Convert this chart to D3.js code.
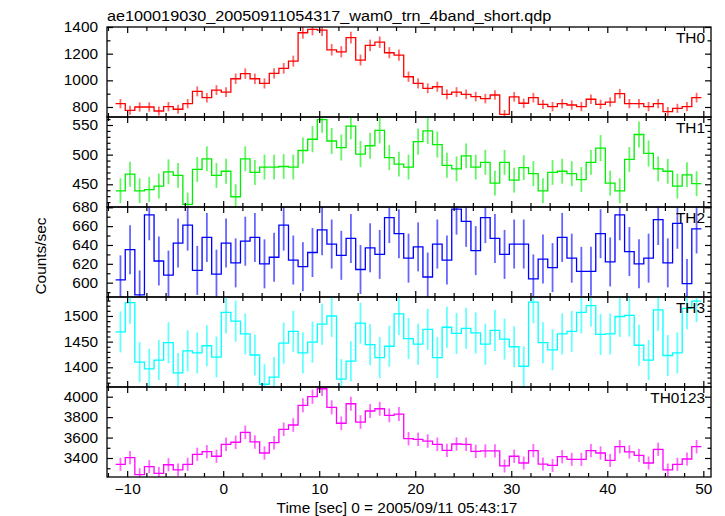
<!DOCTYPE html>
<html><head><meta charset="utf-8">
<script src="https://cdn.jsdelivr.net/npm/d3@7"></script>
<style>body{margin:0;background:#fff}text{font-family:"Liberation Sans",Arial,Helvetica,sans-serif;fill:#000}</style>
</head><body>
<svg id="c" width="725" height="516"></svg>
<script>
const titleText = "ae100019030_20050911054317_wam0_trn_4band_short.qdp";
const xLabel = "Time [sec] 0 = 2005/09/11 05:43:17";
const yLabel = "Counts/sec";
const panelNames = ["TH0","TH1","TH2","TH3","TH0123"];
const panelColors = ["#ff0000","#00ee00","#0000ff","#00ffff","#ff00ff"];

const binTimes = [-10.7,-9.7,-8.7,-7.7,-6.7,-5.7,-4.7,-3.7,-2.7,-1.7,-0.7,0.3,1.3,2.3,3.3,4.3,5.3,6.3,7.3,8.3,9.3,10.3,11.3,12.3,13.3,14.3,15.3,16.3,17.3,18.3,19.3,20.3,21.3,22.3,23.3,24.3,25.3,26.3,27.3,28.3,29.3,30.3,31.3,32.3,33.3,34.3,35.3,36.3,37.3,38.3,39.3,40.3,41.3,42.3,43.3,44.3,45.3,46.3,47.3,48.3,49.3];
const binHalfWidth = 0.5;

const th0 = [825,775,800,800,770,803,783,825,917,870,927,912,1012,1050,1012,977,1052,1090,1144,1357,1382,1377,1229,1214,1321,1152,1262,1286,1207,1189,1027,977,940,952,895,912,895,878,863,890,745,876,828,870,820,803,825,815,803,858,820,837,900,825,825,803,825,766,790,803,870];
const th0Err = [35,34,35,35,34,35,34,35,37,36,37,37,39,39,39,38,39,40,41,45,45,45,43,42,44,41,43,43,42,42,39,38,37,38,36,37,36,36,36,36,33,36,35,36,35,35,35,35,35,36,35,35,36,35,35,35,35,34,34,35,36];
const th1 = [439,467,439,441,447,471,465,416,475,493,465,472,429,493,470,479,479,480,479,507,526,559,523,512,548,501,515,541,495,484,479,522,540,517,482,476,498,479,487,452,487,457,478,468,439,470,472,468,458,487,511,452,439,492,534,502,476,472,447,466,451];
const th1Err = [21,21,21,21,21,21,21,20,21,21,21,21,21,21,21,21,21,21,21,22,22,22,22,22,22,22,22,22,21,21,21,22,22,22,21,21,21,21,21,21,21,21,21,21,21,21,21,21,21,21,22,21,21,21,22,22,21,21,21,21,21];
const th2 = [603,635,587,672,623,608,642,661,613,648,609,642,621,644,648,620,627,661,624,617,632,656,641,629,647,614,637,630,669,652,626,638,606,641,624,678,665,634,669,647,630,641,641,604,625,616,648,626,612,612,652,622,672,633,620,626,667,621,663,599,657];
const th2Err = [26,26,26,27,26,26,26,27,26,26,26,26,26,26,26,26,26,27,26,26,26,27,26,26,26,26,26,26,27,26,26,26,26,26,26,27,27,26,27,26,26,26,26,26,26,26,26,26,26,26,26,26,27,26,26,26,27,26,27,26,26];
const th3 = [1469,1526,1410,1397,1414,1448,1389,1432,1428,1442,1420,1507,1490,1465,1424,1367,1381,1447,1470,1428,1449,1484,1500,1377,1412,1486,1444,1419,1441,1504,1456,1445,1474,1419,1478,1466,1476,1467,1445,1472,1455,1440,1402,1527,1448,1434,1465,1470,1507,1520,1464,1465,1499,1501,1443,1414,1512,1423,1428,1515,1529];
const th3Err = [40,41,39,39,39,40,39,40,40,40,40,41,40,40,40,39,39,40,40,40,40,40,41,39,39,40,40,40,40,41,40,40,40,40,40,40,40,40,40,40,40,40,39,41,40,40,40,40,41,41,40,40,40,41,40,39,41,40,40,41,41];
const th0123 = [3338,3403,3237,3315,3250,3334,3283,3338,3436,3462,3417,3534,3554,3651,3557,3449,3550,3681,3723,3916,4000,4078,3896,3740,3931,3752,3860,3882,3818,3830,3589,3583,3566,3534,3475,3537,3534,3465,3469,3469,3322,3417,3351,3472,3341,3328,3413,3387,3387,3472,3449,3377,3511,3459,3426,3351,3485,3283,3338,3390,3511];
const th0123Err = [64,65,63,64,63,64,63,64,65,65,65,66,66,67,66,65,66,67,67,69,70,70,69,67,69,67,68,68,68,68,66,66,66,66,65,66,66,65,65,65,64,65,64,65,64,64,65,64,64,65,65,64,66,65,65,64,65,63,64,64,66];

const xMajorTicks = [-10,0,10,20,30,40,50];
const xMinorTicks = [-12,-8,-6,-4,-2,2,4,6,8,12,14,16,18,22,24,26,28,32,34,36,38,42,44,46,48];
const yDomains = [[725,1400],[411.7,563.5],[584.8,680.3],[1361.6,1537],[3214,4095]];
const yMajorTicks = [[800,1000,1200,1400],[450,500,550],[600,620,640,660,680],[1400,1450,1500],[3400,3600,3800,4000]];
const yMinorTicks = [[900,1100,1300],[420,430,440,460,470,480,490,510,520,530,540,560],[590,610,630,650,670],[1370,1380,1390,1410,1420,1430,1440,1460,1470,1480,1490,1510,1520,1530],[3300,3500,3700,3900]];
const series = [th0,th1,th2,th3,th0123];
const errors = [th0Err,th1Err,th2Err,th3Err,th0123Err];

const L=107, R=711, TOP=27, PH=90;
const FS=14, SX=1.1;
const svg = d3.select("#c");
const x = d3.scaleLinear().domain([-12.1,50.8]).range([L,R]);

function stretchTexts(axisG){
  axisG.selectAll("text").each(function(){
    const t=d3.select(this);
    const xx=+t.attr("x")||0;
    t.attr("x", xx/SX).attr("transform",`scale(${SX},1)`).style("font-size",FS+"px");
  });
}
function addText(x0,y0,s,anchor,size,sx,rot){
  svg.append("text")
    .attr("transform",`translate(${x0},${y0})${rot?` rotate(${rot})`:""} scale(${sx},1)`)
    .attr("text-anchor",anchor).style("font-size",size+"px").text(s);
}

series.forEach((vals,p)=>{
  const t=TOP+p*PH, b=t+PH;
  const y=d3.scaleLinear().domain(yDomains[p]).range([b,t]);
  const g=svg.append("g");
  const cid="clip"+p;
  svg.append("clipPath").attr("id",cid).append("rect").attr("x",L).attr("y",t).attr("width",R-L).attr("height",PH);
  const dg=g.append("g").attr("clip-path",`url(#${cid})`);
  const col=panelColors[p];
  dg.selectAll("line.err").data(vals).join("line")
    .attr("x1",(d,i)=>x(binTimes[i])).attr("x2",(d,i)=>x(binTimes[i]))
    .attr("y1",(d,i)=>y(d-errors[p][i])).attr("y2",(d,i)=>y(d+errors[p][i]))
    .attr("stroke",col).attr("stroke-width",1.8).attr("stroke-opacity",0.6);
  const pts=vals.map((v,i)=>[binTimes[i]-binHalfWidth,v]);
  pts.push([binTimes[vals.length-1]+binHalfWidth,vals[vals.length-1]]);
  const line=d3.line().x(d=>x(d[0])).y(d=>y(d[1])).curve(d3.curveStepAfter);
  dg.append("path").attr("d",line(pts)).attr("fill","none").attr("stroke",col).attr("stroke-width",1.3);

  const fmt=d3.format("d");
  const yl=g.append("g").attr("transform",`translate(${L},0)`)
    .call(d3.axisLeft(y).tickValues(yMajorTicks[p]).tickSize(-6).tickPadding(9).tickFormat(fmt));
  yl.select(".domain").remove(); stretchTexts(yl);
  const ylm=g.append("g").attr("transform",`translate(${L},0)`)
    .call(d3.axisLeft(y).tickValues(yMinorTicks[p]).tickSize(-3.5).tickFormat(""));
  ylm.select(".domain").remove();
  const yr=g.append("g").attr("transform",`translate(${R},0)`)
    .call(d3.axisRight(y).tickValues(yMajorTicks[p]).tickSize(-6).tickFormat(""));
  yr.select(".domain").remove();
  const yrm=g.append("g").attr("transform",`translate(${R},0)`)
    .call(d3.axisRight(y).tickValues(yMinorTicks[p]).tickSize(-3.5).tickFormat(""));
  yrm.select(".domain").remove();
  const xt=g.append("g").attr("transform",`translate(0,${t})`)
    .call(d3.axisTop(x).tickValues(xMajorTicks).tickSize(-6).tickFormat(""));
  xt.select(".domain").remove();
  const xtm=g.append("g").attr("transform",`translate(0,${t})`)
    .call(d3.axisTop(x).tickValues(xMinorTicks).tickSize(-4).tickFormat(""));
  xtm.select(".domain").remove();
  const xb=g.append("g").attr("transform",`translate(0,${b})`)
    .call(d3.axisBottom(x).tickValues(xMajorTicks).tickSize(-6).tickPadding(7)
      .tickFormat(p===series.length-1?(d=>d<0?"\u2212"+Math.abs(d):String(d)):""));
  xb.select(".domain").remove(); if(p===series.length-1) stretchTexts(xb);
  const xbm=g.append("g").attr("transform",`translate(0,${b})`)
    .call(d3.axisBottom(x).tickValues(xMinorTicks).tickSize(-4).tickFormat(""));
  xbm.select(".domain").remove();
  g.selectAll(".tick line").attr("stroke","#000").attr("stroke-width",1.2);
  g.append("rect").attr("x",L).attr("y",t).attr("width",R-L).attr("height",PH)
    .attr("fill","none").attr("stroke","#000").attr("stroke-width",1.3);
  addText(705,t+16,panelNames[p],"end",FS,SX);
});

addText(L,21,titleText,"start",14.5,1.12);
addText(397,513,xLabel,"middle",FS,SX);
addText(46,256,yLabel,"middle",FS,SX,-90);
</script>
</body></html>
